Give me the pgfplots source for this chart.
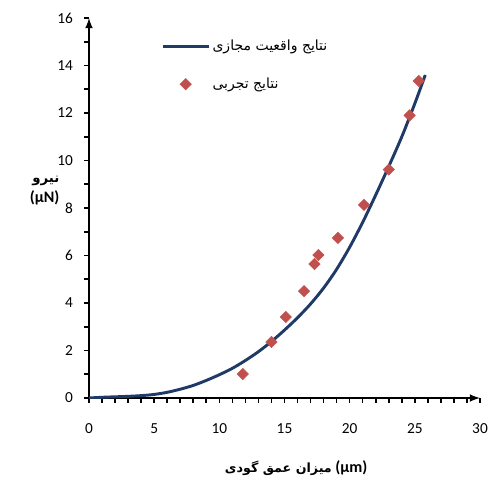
\documentclass[border=0pt]{standalone}
\usepackage{fontspec}
\setmainfont{Carlito}
\newfontfamily\arabicfont[Script=Arabic]{DejaVu Sans}
\usepackage{pgfplots}
\pgfplotsset{compat=1.18}
\TeXXeTstate=1
\definecolor{navy}{HTML}{1F3A66}
\definecolor{expred}{HTML}{C0504D}
\pgfplotstableread{
x y
0 0
1 0.03
2 0.05
3 0.07
4 0.10
5 0.15
6 0.24
7 0.37
8 0.53
9 0.74
10 0.98
11 1.25
12 1.58
13 1.95
14 2.38
15 2.86
16 3.38
17 3.96
18 4.63
19 5.42
20 6.35
21 7.40
22 8.55
23 9.75
24 11.00
25 12.40
25.8 13.60
}\simdata
\pgfplotstableread{
x y
11.8 1.01
14.0 2.36
15.1 3.41
16.5 4.50
17.3 5.64
17.6 6.02
19.1 6.74
21.1 8.13
23.0 9.62
24.6 11.90
25.3 13.35
}\expdata
\begin{document}
\begin{tikzpicture}
\begin{axis}[
  name=ax,
  scale only axis,
  width=293.25pt, height=285pt,
  xmin=0, xmax=30, ymin=0, ymax=16,
  axis lines=left,
  axis line style={line width=1.6pt, -latex},
  xtick={0,5,...,30}, ytick={0,2,...,16},
  minor x tick num=4, minor y tick num=1,
  tick align=outside,
  major tick length=3.5pt, minor tick length=3.5pt,
  every tick/.style={black, line width=1.2pt},
  /pgf/number format/assume math mode=true,
  tick label style={font=\fontsize{11.5}{13}\selectfont, text=black},
  xticklabel style={yshift=-12pt},
  yticklabel style={xshift=-5pt},
  xlabel={{\fontsize{9.5}{11}\selectfont\arabicfont\bfseries\beginR میزان عمق گودی\endR}~\textbf{(μm)}},
  xlabel style={at={(axis description cs:0.53,-0.184)}, anchor=center, font=\fontsize{12}{14}\selectfont},
  ylabel={{\fontsize{10}{12}\selectfont\arabicfont\bfseries\beginR نیرو\endR}\\\textbf{(μN)}},
  ylabel style={rotate=-90, at={(axis description cs:-0.075,0.545)}, anchor=east, align=right, inner sep=0pt, font=\fontsize{12}{15}\selectfont},
  legend style={draw=none, fill=none, at={(axis description cs:0.185,0.95)}, anchor=north west,
    font=\fontsize{10.5}{12}\selectfont, row sep=15pt, inner sep=0pt},
  legend cell align=left,
  legend image code/.code={\draw[#1, mark repeat=2, mark phase=2] plot coordinates {(0pt,0pt) (17pt,0pt) (34pt,0pt)};},
]
\addplot[navy, line width=2.2pt, smooth, no markers] table {\simdata};
\addlegendentry{\arabicfont\beginR نتایج واقعیت مجازی\endR}
\addplot[only marks, mark=square*, mark size=3pt, mark options={rotate=45, expred, draw=expred, fill=expred}] table {\expdata};
\addlegendentry{\arabicfont\beginR نتایج تجربی\endR}
\end{axis}
\pgfresetboundingbox
\path ([shift={(-66.75pt,-60.75pt)}]ax.south west) rectangle ([shift={(9.75pt,13.5pt)}]ax.north east);
\end{tikzpicture}
\end{document}
